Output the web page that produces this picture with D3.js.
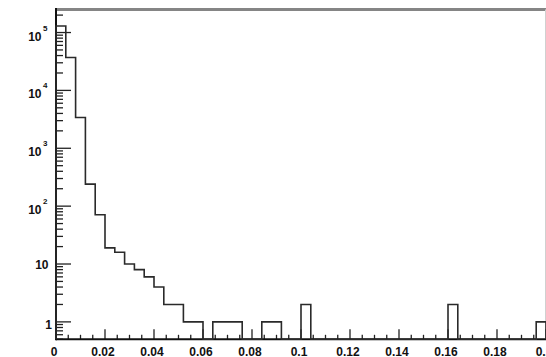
<!DOCTYPE html>
<html>
<head>
<meta charset="utf-8">
<script src="https://cdn.jsdelivr.net/npm/d3@7"></script>
<style>
  body { margin: 0; background: #fff; }
  text { font-family: "Liberation Sans", Arial, sans-serif; font-weight: bold; fill: #111; }
</style>
</head>
<body>
<div id="chart"></div>
<script>
// histogram: 50 bins from 0 to 0.2
var xMin = 0, xMax = 0.2;
var counts = [130000, 37000, 3400, 240, 71, 19, 16, 10, 8, 6,
              4, 2, 2, 1, 1, 0, 1, 1, 1, 0,
              0, 1, 1, 0, 0, 2, 0, 0, 0, 0,
              0, 0, 0, 0, 0, 0, 0, 0, 0, 0,
              2, 0, 0, 0, 0, 0, 0, 0, 0, 1];
var xTicks = [0, 0.02, 0.04, 0.06, 0.08, 0.1, 0.12, 0.14, 0.16, 0.18, 0.2];
var xTickLabels = ["0", "0.02", "0.04", "0.06", "0.08", "0.1", "0.12", "0.14", "0.16", "0.18", "0.2"];
var yTicks = [1, 10, 100, 1000, 10000, 100000];
var yDomain = [0.5, 250000];

var W = 546, H = 357;
// plot frame (note: "top" is reserved on window, so use a box object)
var box = {left: 56, right: 546, top: 9.5, bottom: 339.3};

var svg = d3.select("#chart").append("svg")
    .attr("width", W)
    .attr("height", H);

var x = d3.scaleLinear().domain([xMin, xMax]).range([box.left, box.right]);
var y = d3.scaleLog().domain(yDomain).range([box.bottom, box.top]).clamp(true);

var binW = (xMax - xMin) / counts.length;

// frame: top and right (grey)
svg.append("line")
    .attr("x1", box.left).attr("x2", W)
    .attr("y1", box.top).attr("y2", box.top)
    .attr("stroke", "#858585").attr("stroke-width", 3);
svg.append("line")
    .attr("x1", 545.5).attr("x2", 545.5)
    .attr("y1", box.top).attr("y2", box.bottom)
    .attr("stroke", "#d0d0d0").attr("stroke-width", 1);

// x axis ticks (inside, pointing up)
var xMinor = d3.range(0, 41).map(function(i) { return i * 0.005; });
svg.append("g").selectAll("line")
    .data(xMinor)
    .enter().append("line")
    .attr("x1", function(d) { return x(d); })
    .attr("x2", function(d) { return x(d); })
    .attr("y1", box.bottom)
    .attr("y2", function(d, i) { return i % 4 == 0 ? box.bottom - 10 : box.bottom - 4.5; })
    .attr("stroke", "#222").attr("stroke-width", 1.3);

svg.append("g").selectAll("text")
    .data(xTicks)
    .enter().append("text")
    .attr("x", function(d) { return x(d) - 2; })
    .attr("y", 355.5)
    .attr("text-anchor", "middle")
    .style("font-size", "12px")
    .text(function(d, i) { return xTickLabels[i]; });

// y axis ticks (log, inside)
var yMinor = [];
[0.1, 1, 10, 100, 1000, 10000, 100000].forEach(function(dec) {
    for (var k = 1; k < 10; k++) {
        var v = dec * k;
        if (v >= yDomain[0] && v <= yDomain[1]) yMinor.push(v);
    }
});
svg.append("g").selectAll("line")
    .data(yMinor)
    .enter().append("line")
    .attr("x1", box.left)
    .attr("x2", function(d) { return yTicks.indexOf(d) >= 0 ? box.left + 15 : box.left + 7; })
    .attr("y1", function(d) { return y(d); })
    .attr("y2", function(d) { return y(d); })
    .attr("stroke", "#222").attr("stroke-width", 1.3);

// y labels
var yl = svg.append("g");
yTicks.forEach(function(v, i) {
    var py = y(v);
    if (i == 0) {
        yl.append("text").attr("x", 52).attr("y", py + 7.5)
            .attr("text-anchor", "end").style("font-size", "12px").text("1");
    } else if (i == 1) {
        yl.append("text").attr("x", 48.5).attr("y", py + 5)
            .attr("text-anchor", "end").style("font-size", "12px").text("10");
    } else {
        yl.append("text").attr("x", 41.5).attr("y", py + 8)
            .attr("text-anchor", "end").style("font-size", "12px").text("10");
        yl.append("text").attr("x", 43).attr("y", py - 2)
            .style("font-size", "8px").text(String(i));
    }
});

// axes lines
svg.append("line")
    .attr("x1", box.left).attr("x2", box.left)
    .attr("y1", box.top - 1.5).attr("y2", box.bottom + 1)
    .attr("stroke", "#111").attr("stroke-width", 2);
svg.append("line")
    .attr("x1", box.left).attr("x2", W)
    .attr("y1", box.bottom).attr("y2", box.bottom)
    .attr("stroke", "#111").attr("stroke-width", 2);

// histogram outline
var pts = [];
counts.forEach(function(c, i) {
    var v = c > 0 ? c : yDomain[0];
    pts.push([x(xMin + i * binW), y(v)]);
    pts.push([x(xMin + (i + 1) * binW), y(v)]);
});
pts.unshift([x(xMin), box.bottom]);
pts.push([x(xMax), box.bottom]);

svg.append("path")
    .attr("d", d3.line()(pts))
    .attr("fill", "none")
    .attr("stroke", "#2a2a2a")
    .attr("stroke-width", 1.6);
</script>
</body>
</html>
